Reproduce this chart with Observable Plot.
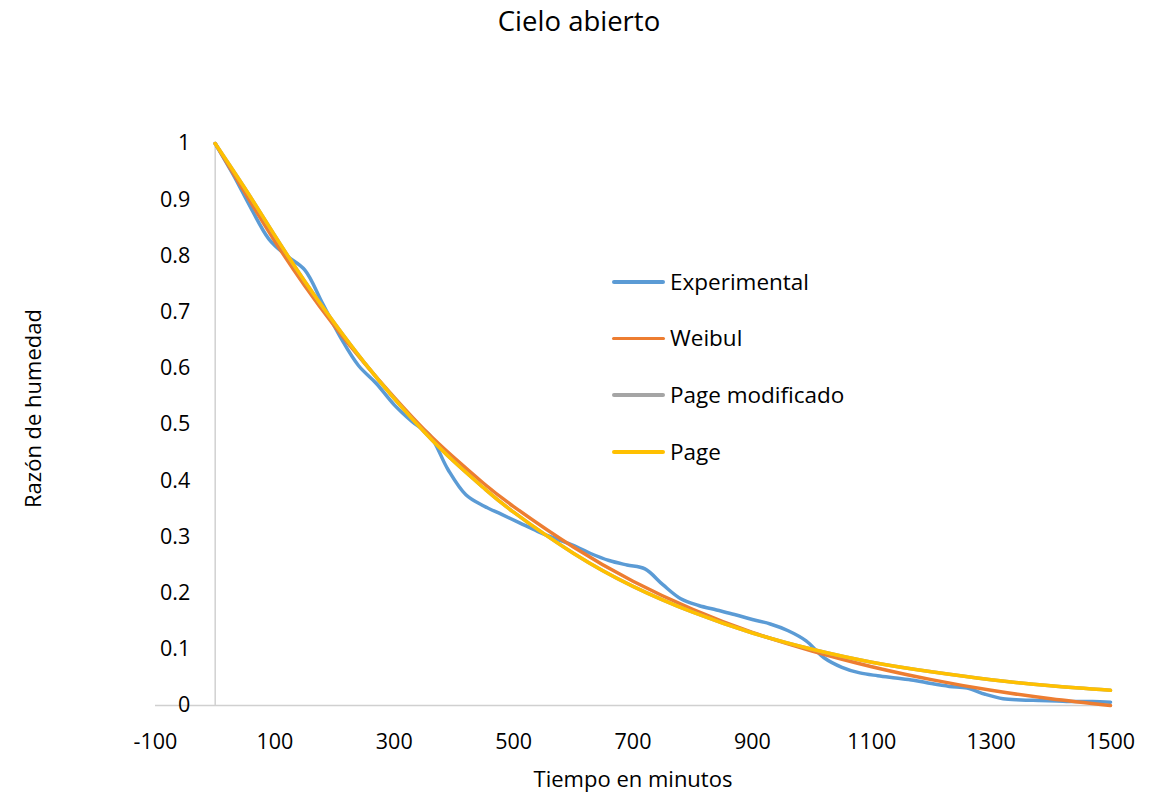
<!DOCTYPE html>
<html>
<head>
<meta charset="utf-8">
<script src="https://cdn.jsdelivr.net/npm/d3@7"></script>
<script src="https://cdn.jsdelivr.net/npm/@observablehq/plot@0.6"></script>
<style>
  body { margin: 0; background: #fff; font-family: "Open Sans", Lato, sans-serif; }
  #wrap { position: relative; width: 1157px; height: 799px; }
  #legend { position: absolute; left: 612px; top: 253.5px; font-size: 22.5px; color: #000; }
  .item { display: flex; align-items: center; height: 56.7px; margin: 0; }
  .item .sw { width: 53px; height: 3.5px; border-radius: 2px; margin-right: 5px; }
  .item span { line-height: 1; }
</style>
</head>
<body>
<div id="wrap"></div>
<script>
// ---- data ----
const expT = [0,30,60,90,120,150,180,210,240,270,300,330,360,390,420,450,480,510,540,570,600,630,660,690,720,750,780,810,840,870,900,930,960,990,1020,1050,1080,1110,1140,1170,1200,1230,1260,1290,1320,1350,1380,1410,1440,1470,1500];
const expMR = [1,0.945,0.885,0.83,0.8,0.775,0.715,0.655,0.605,0.573,0.535,0.505,0.48,0.42,0.375,0.355,0.34,0.325,0.31,0.297,0.285,0.27,0.258,0.25,0.243,0.215,0.19,0.178,0.17,0.162,0.153,0.145,0.133,0.115,0.085,0.068,0.058,0.053,0.049,0.045,0.039,0.034,0.031,0.02,0.012,0.01,0.009,0.008,0.007,0.007,0.006];

const modelT = [0,50,100,150,200,250,300,350,400,450,500,600,700,800,900,1000,1100,1200,1300,1400,1500];
const weibulMR = [1,0.912,0.826,0.747,0.675,0.609,0.548,0.491,0.441,0.395,0.354,0.282,0.221,0.171,0.130,0.097,0.069,0.046,0.027,0.012,0.0];
const pageModMR = [1,0.920,0.836,0.755,0.680,0.610,0.546,0.487,0.434,0.387,0.344,0.271,0.212,0.166,0.129,0.100,0.077,0.060,0.046,0.035,0.027];
const pageMR = [1,0.920,0.836,0.755,0.680,0.610,0.546,0.487,0.434,0.387,0.344,0.271,0.212,0.166,0.129,0.100,0.077,0.060,0.046,0.035,0.027];

const seriesNames = ["Experimental","Weibul","Page modificado","Page"];
const seriesColors = ["#5B9BD5","#ED7D31","#A5A5A5","#FFC000"];
const xTicks = [-100,100,300,500,700,900,1100,1300,1500];
const yTicks = [0,0.1,0.2,0.3,0.4,0.5,0.6,0.7,0.8,0.9,1];

// ---- build ----
const expData = expT.map((t,i)=>({t, mr: expMR[i]}));
const mk = arr => modelT.map((t,i)=>({t, mr: arr[i]}));
const weibulData = mk(weibulMR), pageModData = mk(pageModMR), pageData = mk(pageMR);
const fmt = d => String(d);

const font = '"Open Sans", Lato, sans-serif';
const chart = Plot.plot({
  width: 1157, height: 799,
  marginLeft: 155, marginRight: 47, marginTop: 143, marginBottom: 94,
  style: {fontFamily: font, fontSize: "22px", color: "#000", background: "#fff"},
  x: {domain: [-100, 1500]},
  y: {domain: [0, 1]},
  marks: [
    Plot.ruleY([0], {stroke: "#d0d0d0", strokeWidth: 1.5}),
    Plot.ruleX([0], {y1: 0, y2: 1, stroke: "#d0d0d0", strokeWidth: 1.5}),
    Plot.axisX({ticks: xTicks, tickSize: 0, tickPadding: 28, tickFormat: d => String(d), fontSize: 21.5, label: null}),
    Plot.axisY({ticks: [], label: null, tickSize: 0}),
    Plot.text(yTicks, {x: 0, y: d => d, text: fmt, dx: -25, textAnchor: "end", fontSize: 21.5, fill: "#000"}),
    Plot.line(expData, {x: "t", y: "mr", stroke: seriesColors[0], strokeWidth: 3.5, curve: "catmull-rom"}),
    Plot.line(weibulData, {x: "t", y: "mr", stroke: seriesColors[1], strokeWidth: 3.5, curve: "natural"}),
    Plot.line(pageModData, {x: "t", y: "mr", stroke: seriesColors[2], strokeWidth: 3.5, curve: "natural"}),
    Plot.line(pageData, {x: "t", y: "mr", stroke: seriesColors[3], strokeWidth: 3.5, curve: "natural"}),
    Plot.text(["Cielo abierto"], {frameAnchor: "top", dx: -54, dy: -132, fontSize: 27.5, fill: "#000"}),
    Plot.text(["Tiempo en minutos"], {frameAnchor: "bottom", dy: 81, fontSize: 22, fill: "#000"}),
    Plot.text(["Razón de humedad"], {frameAnchor: "left", textAnchor: "middle", dx: -122, dy: -16, rotate: -90, fontSize: 22, fill: "#000"})
  ]
});
const wrap = document.getElementById("wrap");
wrap.appendChild(chart);

const legend = document.createElement("div");
legend.id = "legend";
seriesNames.forEach((n,i)=>{
  const it = document.createElement("div");
  it.className = "item";
  it.innerHTML = `<div class="sw" style="background:${seriesColors[i]}"></div><span>${n}</span>`;
  legend.appendChild(it);
});
wrap.appendChild(legend);
</script>
</body>
</html>
